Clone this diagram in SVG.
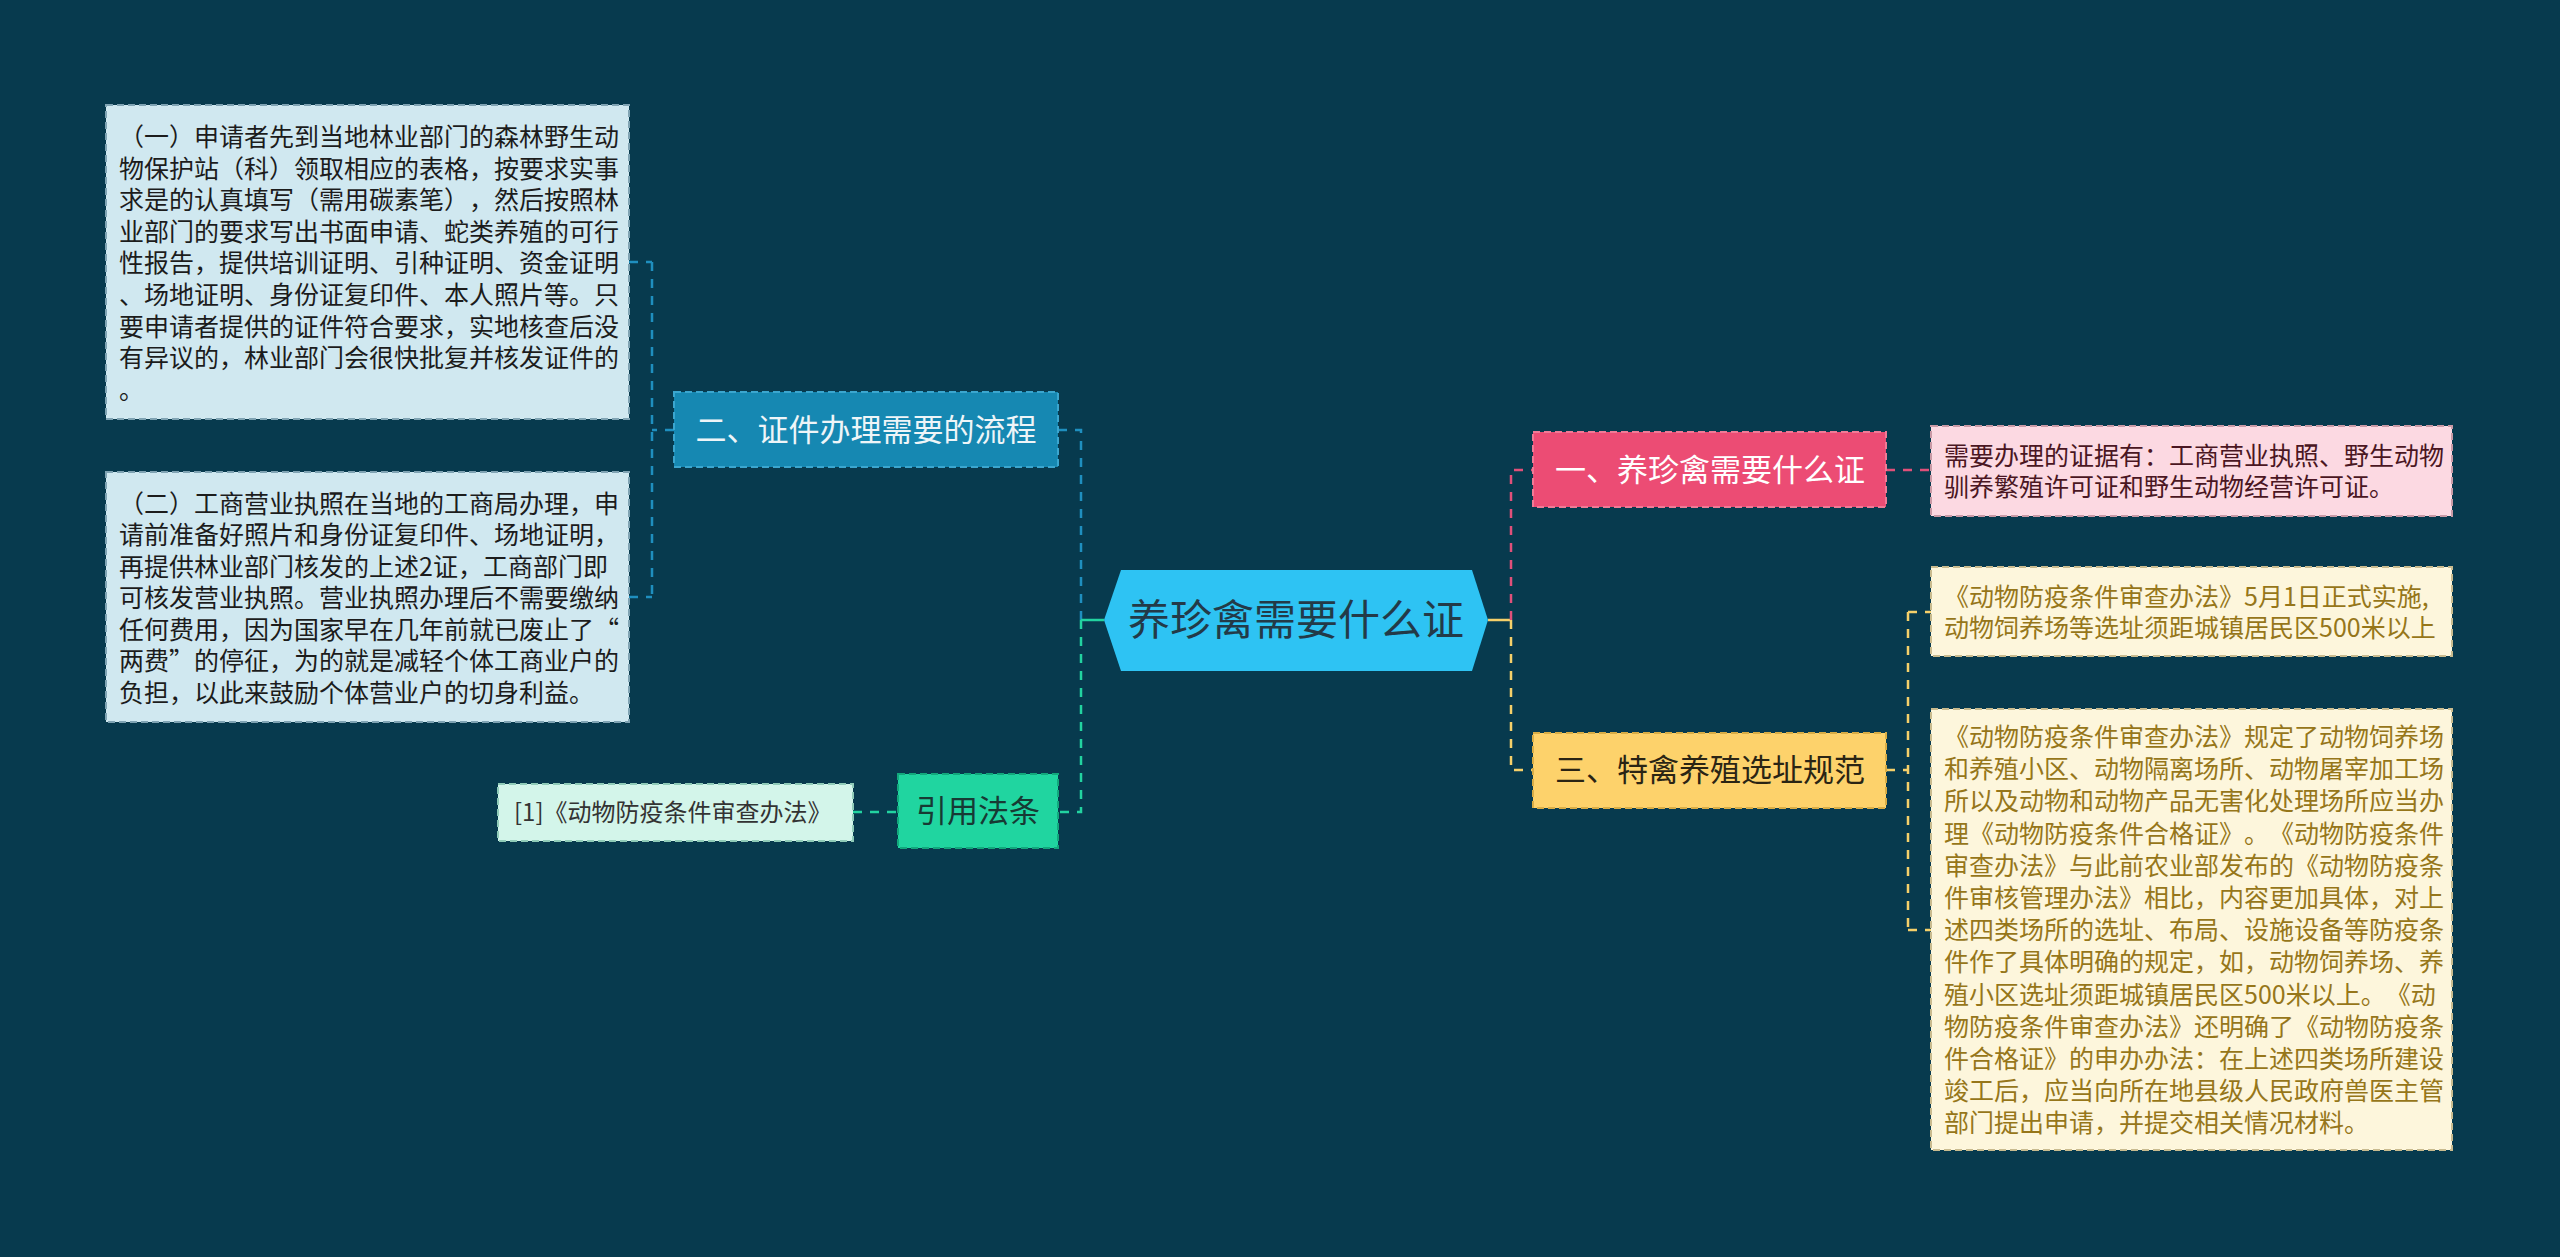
<svg xmlns="http://www.w3.org/2000/svg" width="2560" height="1257" viewBox="0 0 2560 1257">
<defs>
<style>
text{font-family:"Noto Sans CJK SC","Noto Sans",sans-serif;text-spacing-trim:space-all;}
.box{stroke-width:2;stroke-dasharray:7 4;}
.con{fill:none;stroke-width:2.5;stroke-dasharray:9 8;}
.t25{font-size:25px;}
</style>
</defs>
<rect x="0" y="0" width="2560" height="1257" fill="#073a4e"/>
<g id="connectors">
<path class="con" stroke="#1f8fbf" d="M1058 430 H1081 V620"/>
<path class="con" stroke="#22d3a0" d="M1081 620 V812 H1058"/>
<path fill="none" stroke="#22d3a0" stroke-width="2.5" d="M1081 620 H1104"/>
<path class="con" stroke="#1f8fbf" d="M674 430 H652 M652 262 V597 M629 262 H652 M629 597 H652"/>
<path class="con" stroke="#22d3a0" d="M853 812 H898"/>
<path fill="none" stroke="#f5d06a" stroke-width="2.5" d="M1488 620 H1511"/>
<path class="con" stroke="#e0507a" d="M1511 620 V470 H1533"/>
<path class="con" stroke="#f5d06a" d="M1511 620 V770 H1533"/>
<path class="con" stroke="#e0507a" d="M1886 470 H1931"/>
<path class="con" stroke="#f5d06a" d="M1886 770 H1908 M1908 612 V930 M1908 612 H1931 M1908 930 H1931"/>
</g>
<g id="center">
<polygon points="1104,620 1121,570 1472,570 1488,620 1472,671 1121,671" fill="#2ec3f3"/>
<text x="1296" y="635" font-size="42" fill="#233a48" text-anchor="middle">养珍禽需要什么证</text>
</g>
<g id="node-2">
<rect class="box" x="674" y="392" width="384" height="75" fill="#1688b2" stroke="#3ba6cf"/>
<text x="866" y="441" font-size="31" fill="#eef5f8" text-anchor="middle">二、证件办理需要的流程</text>
</g>
<g id="node-2a">
<rect class="box" x="106" y="105" width="523" height="314" fill="#d0e8f0" stroke="#7fa3b3"/>
<text class="t25" fill="#1c1c1c" x="119" y="146">
<tspan x="119">（一）申请者先到当地林业部门的森林野生动</tspan>
<tspan x="119" dy="31.6">物保护站（科）领取相应的表格，按要求实事</tspan>
<tspan x="119" dy="31.6">求是的认真填写（需用碳素笔），然后按照林</tspan>
<tspan x="119" dy="31.6">业部门的要求写出书面申请、蛇类养殖的可行</tspan>
<tspan x="119" dy="31.6">性报告，提供培训证明、引种证明、资金证明</tspan>
<tspan x="119" dy="31.6">、场地证明、身份证复印件、本人照片等。只</tspan>
<tspan x="119" dy="31.6">要申请者提供的证件符合要求，实地核查后没</tspan>
<tspan x="119" dy="31.6">有异议的，林业部门会很快批复并核发证件的</tspan>
<tspan x="119" dy="31.6">。</tspan>
</text>
</g>
<g id="node-2b">
<rect class="box" x="106" y="472" width="523" height="250" fill="#d0e8f0" stroke="#7fa3b3"/>
<text class="t25" fill="#1c1c1c" x="119" y="512.5">
<tspan x="119">（二）工商营业执照在当地的工商局办理，申</tspan>
<tspan x="119" dy="31.5">请前准备好照片和身份证复印件、场地证明，</tspan>
<tspan x="119" dy="31.5">再提供林业部门核发的上述2证，工商部门即</tspan>
<tspan x="119" dy="31.5">可核发营业执照。营业执照办理后不需要缴纳</tspan>
<tspan x="119" dy="31.5">任何费用，因为国家早在几年前就已废止了“</tspan>
<tspan x="119" dy="31.5">两费”的停征，为的就是减轻个体工商业户的</tspan>
<tspan x="119" dy="31.5">负担，以此来鼓励个体营业户的切身利益。</tspan>
</text>
</g>
<g id="node-ref">
<rect class="box" x="898" y="774" width="160" height="74" fill="#20d5a0" stroke="#12a87c"/>
<text x="978" y="822" font-size="31" fill="#173a34" text-anchor="middle">引用法条</text>
</g>
<g id="node-ref1">
<rect class="box" x="498" y="784" width="355" height="57" fill="#d3f5ea" stroke="#8fcbb8"/>
<text x="514" y="821" font-size="24" fill="#333333">[1]《动物防疫条件审查办法》</text>
</g>
<g id="node-1">
<rect class="box" x="1533" y="432" width="353" height="75" fill="#ec4c74" stroke="#f07a96"/>
<text x="1710" y="481" font-size="31" fill="#ffffff" text-anchor="middle">一、养珍禽需要什么证</text>
</g>
<g id="node-1a">
<rect class="box" x="1931" y="426" width="521" height="90" fill="#fcd9e2" stroke="#c99aa6"/>
<text class="t25" fill="#4a1622" x="1944" y="465">
<tspan x="1944">需要办理的证据有：工商营业执照、野生动物</tspan>
<tspan x="1944" dy="31">驯养繁殖许可证和野生动物经营许可证。</tspan>
</text>
</g>
<g id="node-3">
<rect class="box" x="1533" y="733" width="353" height="75" fill="#fdd26b" stroke="#d9ad45"/>
<text x="1710" y="781" font-size="31" fill="#2a2414" text-anchor="middle">三、特禽养殖选址规范</text>
</g>
<g id="node-3a">
<rect class="box" x="1931" y="567" width="521" height="89" fill="#fdf6dc" stroke="#c9bb8f"/>
<text class="t25" fill="#96761a" x="1944" y="605.5">
<tspan x="1944">《动物防疫条件审查办法》5月1日正式实施,</tspan>
<tspan x="1944" dy="31">动物饲养场等选址须距城镇居民区500米以上</tspan>
</text>
</g>
<g id="node-3b">
<rect class="box" x="1931" y="709" width="521" height="441" fill="#fdf6dc" stroke="#c9bb8f"/>
<text class="t25" fill="#96761a" x="1944" y="746">
<tspan x="1944">《动物防疫条件审查办法》规定了动物饲养场</tspan>
<tspan x="1944" dy="32.2">和养殖小区、动物隔离场所、动物屠宰加工场</tspan>
<tspan x="1944" dy="32.2">所以及动物和动物产品无害化处理场所应当办</tspan>
<tspan x="1944" dy="32.2">理《动物防疫条件合格证》。《动物防疫条件</tspan>
<tspan x="1944" dy="32.2">审查办法》与此前农业部发布的《动物防疫条</tspan>
<tspan x="1944" dy="32.2">件审核管理办法》相比，内容更加具体，对上</tspan>
<tspan x="1944" dy="32.2">述四类场所的选址、布局、设施设备等防疫条</tspan>
<tspan x="1944" dy="32.2">件作了具体明确的规定，如，动物饲养场、养</tspan>
<tspan x="1944" dy="32.2">殖小区选址须距城镇居民区500米以上。《动</tspan>
<tspan x="1944" dy="32.2">物防疫条件审查办法》还明确了《动物防疫条</tspan>
<tspan x="1944" dy="32.2">件合格证》的申办办法：在上述四类场所建设</tspan>
<tspan x="1944" dy="32.2">竣工后，应当向所在地县级人民政府兽医主管</tspan>
<tspan x="1944" dy="32.2">部门提出申请，并提交相关情况材料。</tspan>
</text>
</g>
</svg>
